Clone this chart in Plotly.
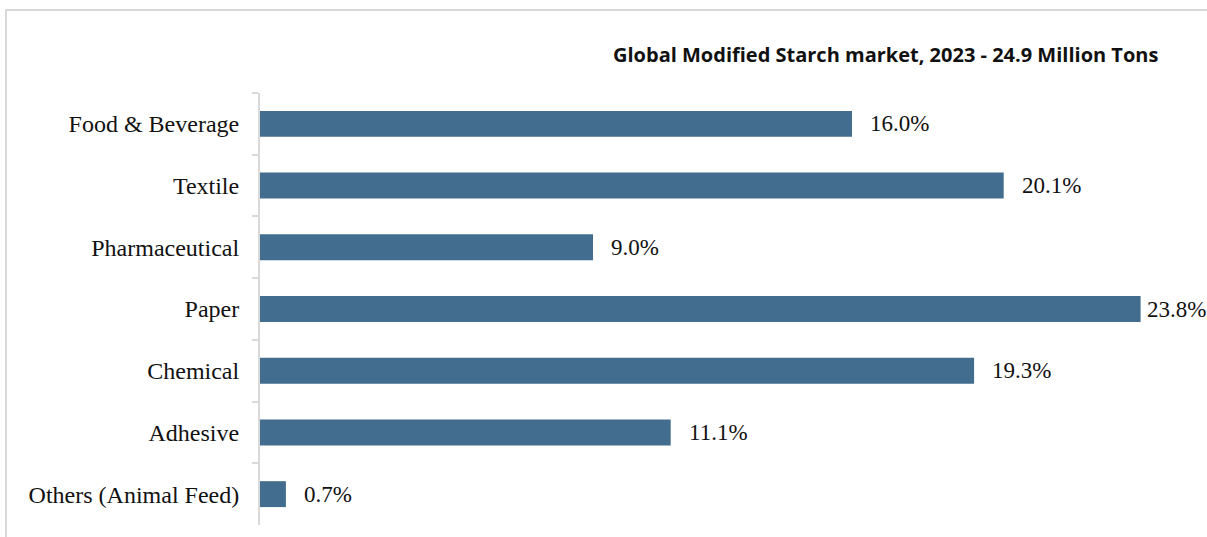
import plotly.graph_objects as go

categories = ["Food & Beverage", "Textile", "Pharmaceutical", "Paper", "Chemical", "Adhesive", "Others (Animal Feed)"]
values = [16.0, 20.1, 9.0, 23.8, 19.3, 11.1, 0.7]
labels = ["16.0%", "20.1%", "9.0%", "23.8%", "19.3%", "11.1%", "0.7%"]
title_text = "Global Modified Starch market, 2023 - 24.9 Million Tons"

W, H = 1207, 537
ml, mr, mt, mb = 260, 22, 93, 12
pw = W - ml - mr
ph = H - mt - mb
xmax = 25

fig = go.Figure()
fig.add_trace(go.Bar(
    x=values, y=categories, orientation="h",
    marker=dict(color="#426d8f", line=dict(width=0)),
    hoverinfo="skip",
))

annotations = []
for c, v, t in zip(categories, values, labels):
    bar_end = ml + v / xmax * pw
    shift = max(4, min(16, W - 62 - bar_end))
    annotations.append(dict(x=v, y=c, xref="x", yref="y", text=t, showarrow=False,
                            xanchor="left", yanchor="middle", xshift=shift,
                            font=dict(family="Liberation Serif", size=23, color="#111111")))
annotations.append(dict(x=(1160 - ml) / pw, y=1 + (mt - 55) / ph, xref="paper", yref="paper",
                        text="<b>" + title_text + "</b>", showarrow=False,
                        xanchor="right", yanchor="middle",
                        font=dict(family="Open Sans", size=20, color="#111111")))

fig.update_layout(
    width=W, height=H,
    margin=dict(l=ml, r=mr, t=mt, b=mb, pad=0),
    paper_bgcolor="white", plot_bgcolor="white",
    bargap=0.58,
    showlegend=False,
    annotations=annotations,
    shapes=[dict(type="rect", xref="paper", yref="paper",
                 x0=(6 - ml) / pw, x1=(W + 20 - ml) / pw,
                 y0=-(mb + 20) / ph, y1=1 + (mt - 10) / ph,
                 line=dict(color="#d9d9d9", width=2), layer="below")],
    xaxis=dict(range=[0, xmax], visible=False, fixedrange=True),
    yaxis=dict(autorange="reversed", showline=True, linecolor="#d9d9d9", linewidth=2,
               ticks="outside", tickson="boundaries", ticklen=6, tickcolor="#d9d9d9", tickwidth=2,
               showgrid=False, zeroline=False, ticklabelstandoff=14, fixedrange=True,
               tickfont=dict(family="Liberation Serif", size=24, color="#111111")),
)

fig.write_html("out.html", config={"displayModeBar": False},
               post_script="document.body.style.margin='0';document.body.style.overflow='hidden';")
